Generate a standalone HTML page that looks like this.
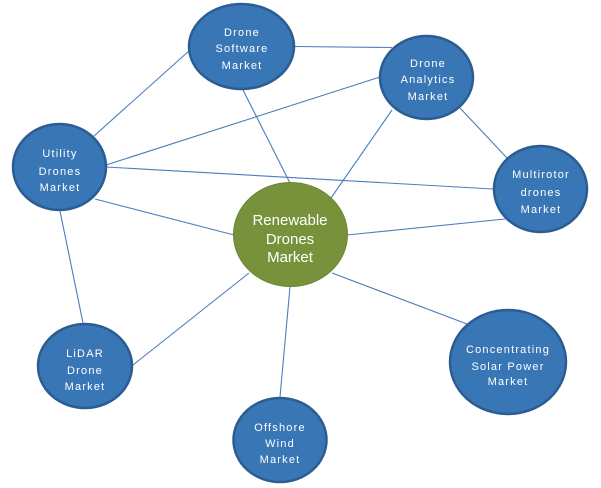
<!DOCTYPE html>
<html>
<head>
<meta charset="utf-8">
<style>
  html, body { margin: 0; padding: 0; background: #ffffff; }
  svg { display: block; }
  .t { font-family: "Liberation Sans", "DejaVu Sans", sans-serif; font-size: 11px; fill: #ffffff; letter-spacing: 1.2px; }
  .g { font-family: "Liberation Sans", "DejaVu Sans", sans-serif; font-size: 15px; fill: #ffffff; }
</style>
</head>
<body>
<svg width="601" height="488" viewBox="0 0 601 488" xmlns="http://www.w3.org/2000/svg">
  <g stroke="#4a7ebb" stroke-width="1.1" fill="none">
    <!-- Software - Analytics -->
    <line x1="295" y1="46.5" x2="392" y2="47.5"/>
    <!-- Software - Utility -->
    <line x1="190" y1="50" x2="94" y2="136"/>
    <!-- Software - Renewable -->
    <line x1="243" y1="90" x2="290" y2="183"/>
    <!-- Analytics - Utility -->
    <line x1="380" y1="77" x2="106" y2="165"/>
    <!-- Utility - Multirotor -->
    <line x1="106" y1="167" x2="493" y2="189"/>
    <!-- Utility - Renewable -->
    <line x1="95" y1="199" x2="234" y2="235"/>
    <!-- Utility - LiDAR -->
    <line x1="60" y1="211" x2="83" y2="323"/>
    <!-- Analytics - Renewable -->
    <line x1="392" y1="110" x2="331" y2="198"/>
    <!-- Analytics - Multirotor -->
    <line x1="460" y1="108" x2="507" y2="158"/>
    <!-- Renewable - Multirotor -->
    <line x1="347" y1="235" x2="505" y2="219"/>
    <!-- Renewable - Concentrating -->
    <line x1="332" y1="273" x2="467" y2="324"/>
    <!-- Renewable - LiDAR -->
    <line x1="249" y1="273" x2="133" y2="365"/>
    <!-- Renewable - Offshore -->
    <line x1="290" y1="287" x2="280" y2="397"/>
  </g>

  <g fill="#3876b6" stroke="#2b5d92" stroke-width="2.5">
    <ellipse cx="241.5" cy="46.5" rx="52.5" ry="42.5"/>
    <ellipse cx="426.5" cy="77.5" rx="46.5" ry="41.5"/>
    <ellipse cx="59.5" cy="167" rx="46.5" ry="43"/>
    <ellipse cx="540.5" cy="189" rx="46.5" ry="43"/>
    <ellipse cx="85" cy="366" rx="47" ry="42"/>
    <ellipse cx="280" cy="440" rx="46.5" ry="42"/>
    <ellipse cx="508" cy="362" rx="58" ry="52"/>
  </g>
  <ellipse cx="290.5" cy="234.5" rx="57" ry="52" fill="#77923a" stroke="#6d8635" stroke-width="1"/>

  <g class="t" text-anchor="middle">
    <text x="242" y="36">Drone</text>
    <text x="242" y="52">Software</text>
    <text x="242" y="69">Market</text>

    <text x="428" y="67">Drone</text>
    <text x="428" y="83">Analytics</text>
    <text x="428" y="100">Market</text>

    <text x="60" y="157">Utility</text>
    <text x="60" y="175">Drones</text>
    <text x="60" y="191">Market</text>

    <text x="541" y="178">Multirotor</text>
    <text x="541" y="196">drones</text>
    <text x="541" y="213">Market</text>

    <text x="85" y="357">LiDAR</text>
    <text x="85" y="374">Drone</text>
    <text x="85" y="390">Market</text>

    <text x="280" y="431">Offshore</text>
    <text x="280" y="447">Wind</text>
    <text x="280" y="463">Market</text>

    <text x="508" y="353">Concentrating</text>
    <text x="508" y="370">Solar Power</text>
    <text x="508" y="385">Market</text>
  </g>

  <g class="g" text-anchor="middle">
    <text x="290" y="225">Renewable</text>
    <text x="290" y="244">Drones</text>
    <text x="290" y="262">Market</text>
  </g>
</svg>
</body>
</html>
